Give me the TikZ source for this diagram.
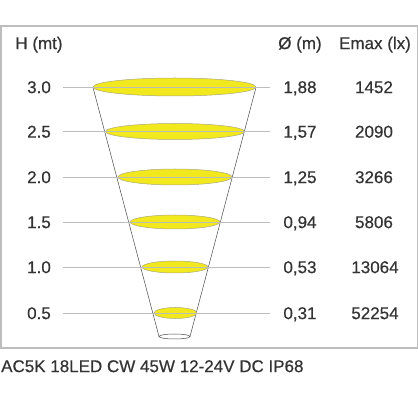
\documentclass[tikz,border=0pt]{standalone}
\usepackage{fontspec}
\setmainfont{Liberation Sans}[FakeBold=0.5]
\usetikzlibrary{shapes.geometric}
\definecolor{spot}{HTML}{F2E81E}
\definecolor{spotline}{HTML}{ADA878}
\definecolor{ink}{HTML}{333333}
\definecolor{rule}{HTML}{BDBDBD}
\definecolor{conecol}{HTML}{4A4A4A}

\begin{document}
\begin{tikzpicture}[x=1pt,y=-1pt]

\tikzset{beam/.style = {shape=ellipse,draw=spotline,fill=spot,line width=0.5pt,inner sep=0pt,outer sep=0pt}}
\tikzset{lbl/.style = {text=ink,inner sep=0pt,text height=12.2pt,text depth=0pt,font=\fontsize{17}{20}\selectfont}}
\tikzset{grid/.style = {draw=rule,line width=0.8pt}}
\tikzset{cone/.style = {draw=conecol,line width=0.5pt}}

\useasboundingbox (0,0) rectangle (418,395);
%frame
\draw[rule, line width=1.5pt] (0.75,26) rectangle (417.25,348);

%headers
\node[lbl] (hh) at (39,43) {H (mt)};
\node[lbl] (hd) at (300,43) {Ø (m)};
\node[lbl] (he) at (375,43) {Emax (lx)};

%heights
\node[lbl] (h30) at (39,87) {3.0};
\node[lbl] (h25) at (39,131.5) {2.5};
\node[lbl] (h20) at (39,177) {2.0};
\node[lbl] (h15) at (39,222) {1.5};
\node[lbl] (h10) at (39,267) {1.0};
\node[lbl] (h05) at (39,313) {0.5};

%diameters
\node[lbl] (d30) at (300,87) {1,88};
\node[lbl] (d25) at (300,131.5) {1,57};
\node[lbl] (d20) at (300,177) {1,25};
\node[lbl] (d15) at (300,222) {0,94};
\node[lbl] (d10) at (300,267) {0,53};
\node[lbl] (d05) at (300,313) {0,31};

%illuminance
\node[lbl] (e30v) at (374,87) {1452};
\node[lbl] (e25v) at (374,131.5) {2090};
\node[lbl] (e20v) at (374,177) {3266};
\node[lbl] (e15v) at (374,222) {5806};
\node[lbl] (e10v) at (375,267) {13064};
\node[lbl] (e05v) at (375,313) {52254};

%cone
\node[shape=ellipse,draw=conecol,fill=white,line width=0.5pt,inner sep=0pt,outer sep=0pt,minimum width=31pt,minimum height=5pt] (e00) at (174.5,336.5) {};
\coordinate (tl) at (93,87.5);
\coordinate (tr) at (256,87.5);
\draw[cone] (tl) -- (e00.west);
\draw[cone] (tr) -- (e00.east);

%spots
\node[beam,minimum width=163pt,minimum height=18pt] (e30) at (174.5,87) {};
\node[beam,minimum width=139pt,minimum height=16pt] (e25) at (175,131.5) {};
\node[beam,minimum width=114pt,minimum height=16pt] (e20) at (175,177) {};
\node[beam,minimum width=90pt,minimum height=14pt] (e15) at (175,222) {};
\node[beam,minimum width=66pt,minimum height=12pt] (e10) at (175,267) {};
\node[beam,minimum width=43pt,minimum height=11pt] (e05) at (175.5,313) {};

%grid lines
\coordinate (l30) at (63,87);    \coordinate (r30) at (270,87);
\coordinate (l25) at (63,131.5); \coordinate (r25) at (270,131.5);
\coordinate (l20) at (63,177);   \coordinate (r20) at (270,177);
\coordinate (l15) at (63,222);   \coordinate (r15) at (270,222);
\coordinate (l10) at (63,267);   \coordinate (r10) at (270,267);
\coordinate (l05) at (63,313);   \coordinate (r05) at (270,313);
\draw[grid] (l30) -- (r30);
\draw[grid] (l25) -- (r25);
\draw[grid] (l20) -- (r20);
\draw[grid] (l15) -- (r15);
\draw[grid] (l10) -- (r10);
\draw[grid] (l05) -- (r05);

%caption
\node[lbl,anchor=west] (cap) at (1,366) {AC5K 18LED CW 45W 12-24V DC IP68};

\end{tikzpicture}
\end{document}
